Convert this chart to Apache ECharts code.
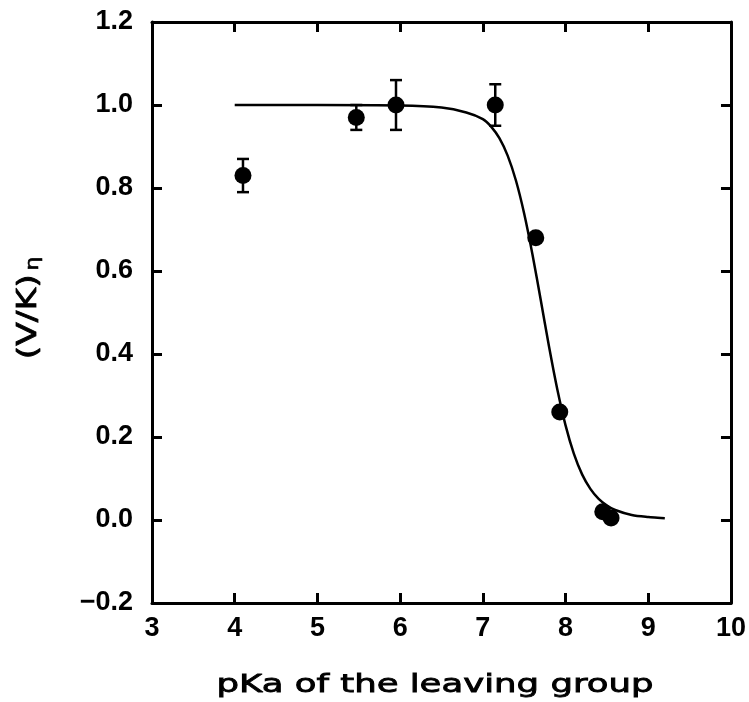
<!DOCTYPE html>
<html>
<head>
<meta charset="utf-8">
<script src="https://cdn.jsdelivr.net/npm/echarts@6/dist/echarts.min.js"></script>
<style>html,body{margin:0;padding:0;background:#fff}#c{width:749px;height:702px}</style>
</head>
<body>
<div id="c"></div>
<script>
// Measured points: [pKa, (V/K)eta]
const pointsX = [4.10, 5.47, 5.95, 7.15, 7.64, 7.93, 8.45, 8.55];
const pointsY = [0.83, 0.97, 1.00, 1.00, 0.68, 0.26, 0.02, 0.005];
// Error bars: [pKa, value, +/- error]
const errX = [4.10, 5.47, 5.95, 7.15];
const errY = [0.83, 0.97, 1.00, 1.00];
const errE = [0.04, 0.03, 0.06, 0.05];
// Fitted curve
const curveX = [4.0, 5.0, 6.0, 6.5, 6.8, 7.0, 7.1, 7.2, 7.3, 7.4, 7.5, 7.6, 7.7, 7.8, 7.9, 8.0, 8.1, 8.2, 8.3, 8.4, 8.5, 8.6, 8.8, 9.0, 9.2];
const curveY = [1.0, 1.0, 0.999, 0.994, 0.982, 0.966, 0.948, 0.920, 0.878, 0.818, 0.738, 0.640, 0.530, 0.418, 0.315, 0.228, 0.160, 0.110, 0.075, 0.051, 0.035, 0.024, 0.012, 0.007, 0.004];
// Axis settings and titles
const xMin = 3, xMax = 10, xStep = 1;
const yMin = -0.2, yMax = 1.2, yStep = 0.2;
const xTitle = 'pKa of the leaving group';
const yTitleMain = '(V/K)';
const yTitleSub = '\u03b7';

const FONT = 'DejaVu Sans';
const LFONT = 'Liberation Sans';
const chart = echarts.init(document.getElementById('c'), null, {renderer: 'canvas'});

const baseAxis = {
  axisLine: {show: true, onZero: false, lineStyle: {color: '#000', width: 3}},
  axisTick: {show: true, inside: true, length: 10, lineStyle: {color: '#000', width: 3}},
  splitLine: {show: false}
};

const option = {
  backgroundColor: '#fff',
  animation: false,
  grid: {left: 152, right: 16, top: 22, bottom: 99},
  graphic: [
    {
      type: 'text', x: 435, y: 685, scaleX: 1.42, scaleY: 1,
      style: {text: xTitle, font: '25px "DejaVu Sans"', fill: '#000', stroke: '#000', lineWidth: 0.8,
        align: 'center', verticalAlign: 'middle'}
    },
    {
      type: 'text', x: 29, y: 308, rotation: Math.PI / 2, scaleX: 1.28, scaleY: 1,
      style: {
        text: '{a|' + yTitleMain + '}{b|' + yTitleSub + '}',
        fill: '#000', align: 'center', verticalAlign: 'middle',
        rich: {
          a: {fontFamily: FONT, fontSize: 27, fill: '#000', stroke: '#000', lineWidth: 0.8},
          b: {fontFamily: FONT, fontSize: 17, fill: '#000', stroke: '#000', lineWidth: 0.6,
            verticalAlign: 'bottom', padding: [10, 0, 0, 3]}
        }
      }
    }
  ],
  xAxis: [
    Object.assign({}, baseAxis, {
      type: 'value', min: xMin, max: xMax, interval: xStep, position: 'bottom',
      axisLabel: {color: '#000', fontFamily: LFONT, fontWeight: 'bold', fontSize: 27, margin: 12}
    }),
    Object.assign({}, baseAxis, {
      type: 'value', min: xMin, max: xMax, interval: xStep, position: 'top',
      axisLabel: {show: false}
    })
  ],
  yAxis: [
    Object.assign({}, baseAxis, {
      type: 'value', min: yMin, max: yMax, interval: yStep, position: 'left',
      axisLabel: {color: '#000', fontFamily: LFONT, fontWeight: 'bold', fontSize: 27, margin: 19,
        formatter: v => v.toFixed(1).replace('-', '\u2212')}
    }),
    Object.assign({}, baseAxis, {
      type: 'value', min: yMin, max: yMax, interval: yStep, position: 'right',
      axisLabel: {show: false}
    })
  ],
  series: [
    {
      type: 'line', smooth: 0.3, symbol: 'none',
      data: curveX.map((x, i) => [x, curveY[i]]),
      lineStyle: {color: '#000', width: 2.5}, z: 2
    },
    {
      type: 'custom',
      data: errX.map((x, i) => [x, errY[i], errY[i] - errE[i], errY[i] + errE[i]]),
      renderItem: function (params, api) {
        const x = api.value(0), lo = api.value(2), hi = api.value(3);
        const pTop = api.coord([x, hi]);
        const pBot = api.coord([x, lo]);
        const w = 6;
        const st = {stroke: '#000', lineWidth: 2.5};
        return {
          type: 'group',
          children: [
            {type: 'line', shape: {x1: pTop[0], y1: pTop[1], x2: pBot[0], y2: pBot[1]}, style: st},
            {type: 'line', shape: {x1: pTop[0] - w, y1: pTop[1], x2: pTop[0] + w, y2: pTop[1]}, style: st},
            {type: 'line', shape: {x1: pBot[0] - w, y1: pBot[1], x2: pBot[0] + w, y2: pBot[1]}, style: st}
          ]
        };
      },
      z: 3
    },
    {
      type: 'scatter', symbol: 'circle', symbolSize: 17,
      data: pointsX.map((x, i) => [x, pointsY[i]]),
      itemStyle: {color: '#000', opacity: 1}, z: 4
    }
  ]
};
chart.setOption(option);
</script>
</body>
</html>
